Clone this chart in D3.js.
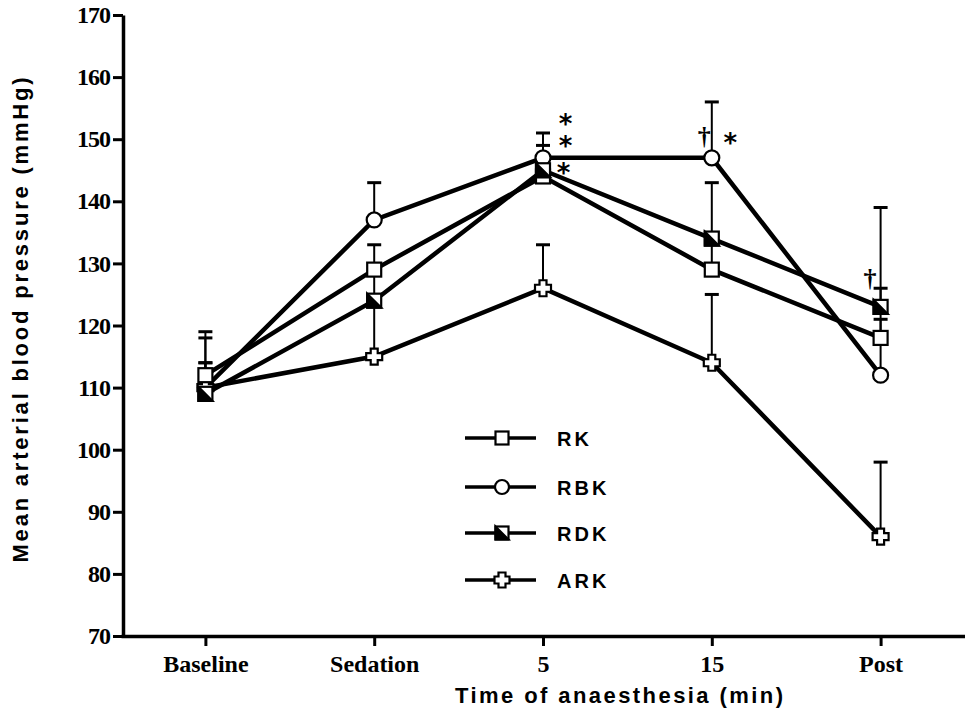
<!DOCTYPE html>
<html>
<head>
  <title>Mean arterial blood pressure</title>
  <style>
    body { margin: 0; background: #fff; }
    svg { display: block; }
    .tick text { font-family: "Liberation Serif", "Times New Roman", serif; font-weight: bold; font-size: 24px; fill: #000; }
    .axis-title { font-family: "Liberation Sans", Arial, sans-serif; font-weight: bold; font-size: 22px; }
    .legend-label { font-family: "Liberation Sans", Arial, sans-serif; font-weight: bold; font-size: 20px; letter-spacing: 3px; }
    .mark-star { font-family: "DejaVu Sans", sans-serif; font-weight: bold; font-size: 26px; }
    .mark-dagger { font-family: "Liberation Serif", serif; font-weight: bold; font-size: 26px; }
  </style>
</head>
<body>
<script src="https://d3js.org/d3.v7.min.js"></script>
<script>
  const categories = ["Baseline", "Sedation", "5", "15", "Post"];
  const yTicks = [70, 80, 90, 100, 110, 120, 130, 140, 150, 160, 170];
  const seriesNames = ["RK", "RBK", "RDK", "ARK"];

  // means and upper SD (mmHg)
  const rkMean = [112, 129, 144, 129, 118];
  const rkSd = [2, 4, 5, 5, 3];
  const rbkMean = [110, 137, 147, 147, 112];
  const rbkSd = [9, 6, 4, 9, 27];
  const rdkMean = [109, 124, 145, 134, 123];
  const rdkSd = [9, 5, 2, 9, 3];
  const arkMean = [110, 115, 126, 114, 86];
  const arkSd = [4, 9, 7, 11, 12];

  // significance marks: category, value at symbol centre, symbol, x offset
  const markCats = ["5", "5", "5", "15", "15", "Post"];
  const markVals = [153.4, 149.9, 145.6, 150.2, 150.4, 127.3];
  const markSyms = ["*", "*", "*", "\u2020", "*", "\u2020"];
  const markDx = [22.5, 22.5, 20.5, -7.5, 18.5, -10.5];

  const width = 965, height = 712;

  const x = d3.scalePoint().domain(categories).range([121, 965]).padding(0.5);
  const y = d3.scaleLinear().domain([70, 170]).range([636, 15]);

  const svg = d3.select("body").append("svg")
    .attr("width", width).attr("height", height);

  const series = [
    { name: "RK", mean: rkMean, sd: rkSd },
    { name: "RBK", mean: rbkMean, sd: rbkSd },
    { name: "RDK", mean: rdkMean, sd: rdkSd },
    { name: "ARK", mean: arkMean, sd: arkSd }
  ];

  // axes
  const xAxis = svg.append("g")
    .attr("transform", `translate(0,${y(70)})`)
    .call(d3.axisBottom(x).tickSize(10).tickSizeOuter(0).tickPadding(9));
  const yAxis = svg.append("g")
    .attr("transform", "translate(123,0)")
    .call(d3.axisLeft(y).tickValues(yTicks).tickSize(10).tickSizeOuter(0).tickPadding(3));

  [xAxis, yAxis].forEach(g => {
    g.select(".domain").attr("stroke", "#000").attr("stroke-width", 3.5);
    g.selectAll(".tick line").attr("stroke", "#000").attr("stroke-width", 3);
  });
  yAxis.selectAll(".tick text").attr("letter-spacing", "-1px");

  svg.append("text").attr("class", "axis-title")
    .attr("x", 455).attr("y", 703)
    .attr("textLength", 328).attr("lengthAdjust", "spacing")
    .text("Time of anaesthesia (min)");

  svg.append("text").attr("class", "axis-title")
    .attr("transform", "translate(28,320) rotate(-90)")
    .attr("text-anchor", "middle")
    .attr("textLength", 485).attr("lengthAdjust", "spacing")
    .text("Mean arterial blood pressure (mmHg)");

  // error bars (upper only)
  series.forEach(s => {
    const g = svg.append("g");
    categories.forEach((c, i) => {
      const cx = x(c), top = y(s.mean[i] + s.sd[i]);
      g.append("line").attr("x1", cx).attr("x2", cx)
        .attr("y1", y(s.mean[i])).attr("y2", top)
        .attr("stroke", "#000").attr("stroke-width", 2);
      g.append("line").attr("x1", cx - 7).attr("x2", cx + 7)
        .attr("y1", top).attr("y2", top)
        .attr("stroke", "#000").attr("stroke-width", 3);
    });
  });

  // lines
  const line = d3.line().x((d, i) => x(categories[i])).y(d => y(d));
  series.forEach(s => {
    svg.append("path").datum(s.mean)
      .attr("d", line)
      .attr("fill", "none").attr("stroke", "#000")
      .attr("stroke-width", 4.5).attr("stroke-linejoin", "miter");
  });

  // markers
  function drawMarker(g, name, cx, cy, size) {
    const h = size / 2;
    if (name === "RK") {
      g.append("rect").attr("x", cx - h).attr("y", cy - h)
        .attr("width", size).attr("height", size)
        .attr("fill", "#fff").attr("stroke", "#000").attr("stroke-width", 2.2);
    } else if (name === "RBK") {
      g.append("circle").attr("cx", cx).attr("cy", cy).attr("r", h + 0.5)
        .attr("fill", "#fff").attr("stroke", "#000").attr("stroke-width", 2.2);
    } else if (name === "RDK") {
      g.append("rect").attr("x", cx - h).attr("y", cy - h)
        .attr("width", size).attr("height", size)
        .attr("fill", "#fff").attr("stroke", "#000").attr("stroke-width", 2.2);
      g.append("path")
        .attr("d", `M${cx - h},${cy - h}L${cx + h},${cy + h}L${cx - h},${cy + h}Z`)
        .attr("fill", "#000").attr("stroke", "#000").attr("stroke-width", 2.2);
    } else {
      const a = 3.5, b = h + 1;
      g.append("path")
        .attr("d", `M${cx - a},${cy - b}H${cx + a}V${cy - a}H${cx + b}V${cy + a}H${cx + a}V${cy + b}H${cx - a}V${cy + a}H${cx - b}V${cy - a}H${cx - a}Z`)
        .attr("fill", "#fff").attr("stroke", "#000").attr("stroke-width", 2.2);
    }
  }

  // draw RBK and ARK first so squares sit on top at baseline
  [series[1], series[3], series[0], series[2]].forEach(s => {
    const g = svg.append("g");
    categories.forEach((c, i) => drawMarker(g, s.name, x(c), y(s.mean[i]), 14));
  });

  // significance marks: symbols of one kind at one time point share a text
  // element, each glyph placed through per-character x / y lists
  const groups = d3.groups(markCats.map((c, i) => i), i => markCats[i] + markSyms[i]);
  groups.forEach(([, idx]) => {
    const star = markSyms[idx[0]] === "*";
    svg.append("text")
      .attr("class", star ? "mark-star" : "mark-dagger")
      .attr("text-anchor", "middle")
      .attr("x", idx.map(i => x(markCats[i]) + markDx[i]).join(" "))
      .attr("y", idx.map(i => y(markVals[i]) + (star ? 15 : 7)).join(" "))
      .text(idx.map(i => markSyms[i]).join(""));
  });

  // legend
  const legendY = [438, 487, 533, 580];
  seriesNames.forEach((name, i) => {
    const g = svg.append("g");
    g.append("line").attr("x1", 465).attr("x2", 536)
      .attr("y1", legendY[i]).attr("y2", legendY[i])
      .attr("stroke", "#000").attr("stroke-width", 3.5);
    drawMarker(g, name, 502, legendY[i], 13);
    g.append("text").attr("class", "legend-label")
      .attr("x", 557).attr("y", legendY[i] + 7.5)
      .text(name);
  });
</script>
</body>
</html>
